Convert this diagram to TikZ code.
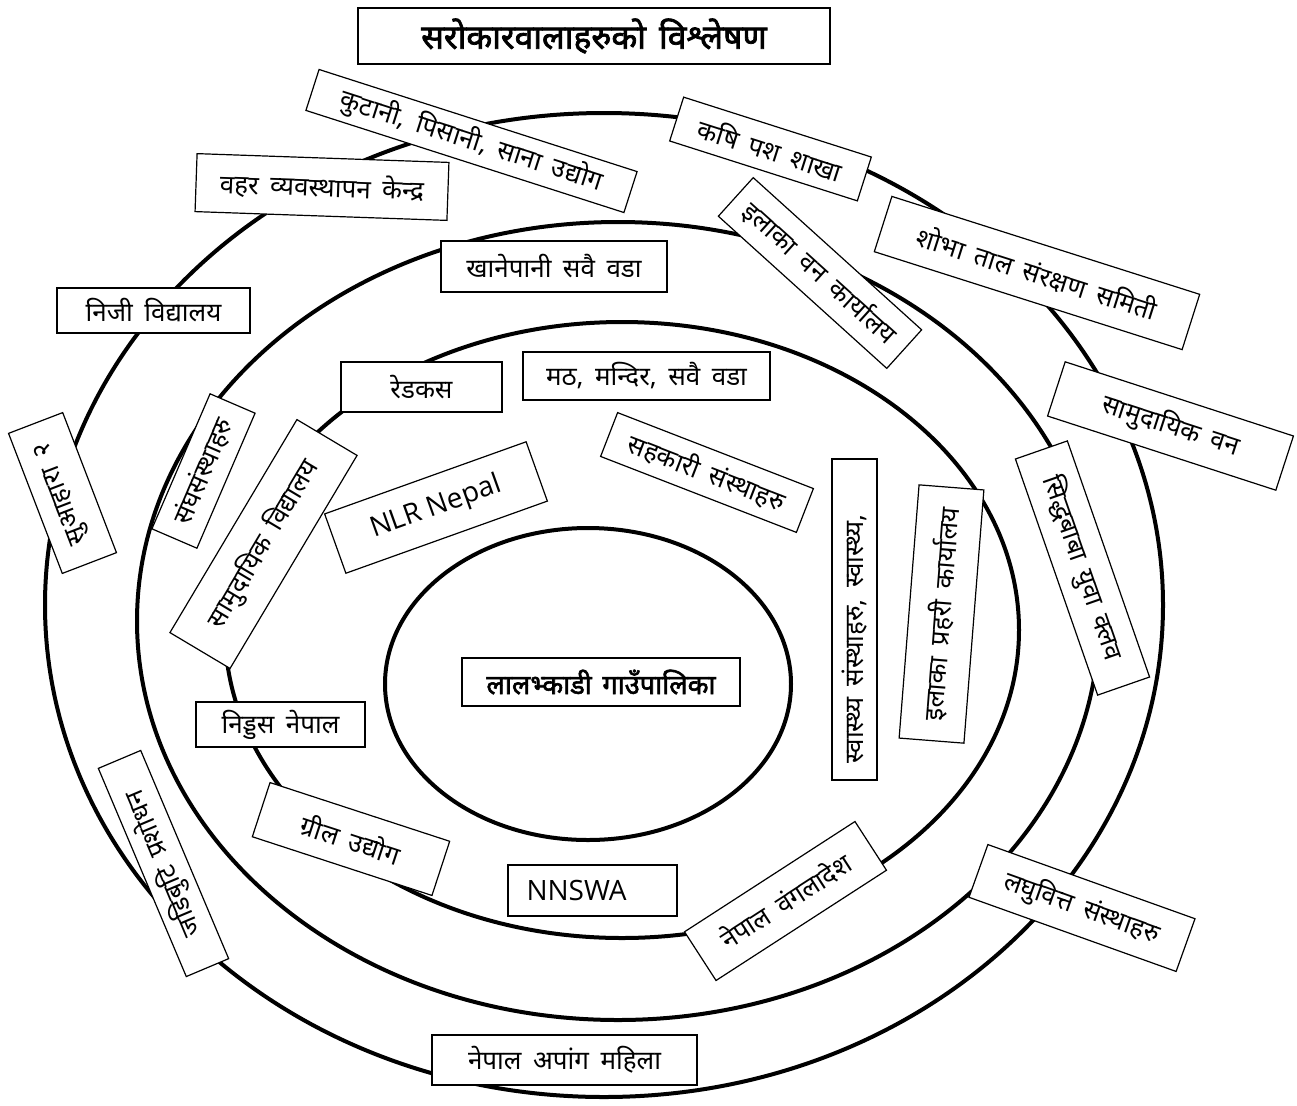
\documentclass[tikz,border=0pt]{standalone}
\usepackage{fontspec}
\newfontfamily\dev[Script=Devanagari,WordSpace=1.7]{Noto Sans}
\newfontfamily\devb[Script=Devanagari,WordSpace=1.5,FakeBold=2.2]{Noto Sans}
\newfontfamily\lat{Open Sans}
\begin{document}
\begin{tikzpicture}[x=0.5pt,y=-0.5pt,
  ring/.style={line width=2pt, draw=black},
  lbl/.style={draw=black, line width=0.6pt, fill=white, inner sep=0pt, align=center,
    font=\dev\fontsize{13}{15}\selectfont},
  latlbl/.style={lbl, font=\lat\fontsize{14}{16}\selectfont},
  boldlbl/.style={lbl, line width=1pt, font=\devb\fontsize{16.8}{19}\selectfont}]
\useasboundingbox (0,0) rectangle (1297,1105);
% rings
\draw[ring] (604,605) ellipse [x radius=279.5pt, y radius=246pt];
\draw[ring] (618,621) ellipse [x radius=240.5pt, y radius=199.5pt];
\draw[ring] (622,630) ellipse [x radius=198.5pt, y radius=154pt];
\draw[ring] (588,684) ellipse [x radius=101.5pt, y radius=78pt];
% title
\node[boldlbl, minimum width=236pt, minimum height=28pt] (title) at (594,36) {सरोकारवालाहरुको विश्लेषण};
% labels
\node[lbl, minimum width=167pt, minimum height=21.5pt, rotate=-17.8] (kutani) at (471.5,141) {कुटानी, पिसानी, साना उद्योग};
\node[lbl, minimum width=98.5pt, minimum height=23pt, rotate=-17.7] (krishi) at (770.5,149) {कषि पश शाखा};
\node[lbl, minimum width=126pt, minimum height=29pt, rotate=-2] (bahar) at (322,187) {वहर व्यवस्थापन केन्द्र};
\node[lbl, minimum width=113pt, minimum height=25.5pt] (khane) at (554,266.5) {खानेपानी सवै वडा};
\node[lbl, minimum width=113.5pt, minimum height=26pt, rotate=-42.1] (ilakaban) at (820,273) {इलाका वन कार्यालय};
\node[lbl, minimum width=161.5pt, minimum height=29pt, rotate=-17.65] (shobha) at (1037,273) {शोभा ताल संरक्षण समिती};
\node[lbl, minimum width=96.5pt, minimum height=22.5pt] (niji) at (153.5,310.5) {निजी विद्यालय};
\node[lbl, minimum width=80.5pt, minimum height=25pt] (redcross) at (421.5,387) {रेडकस};
\node[lbl, minimum width=123.5pt, minimum height=24pt] (math) at (646.5,376) {मठ, मन्दिर, सवै वडा};
\node[lbl, minimum width=120pt, minimum height=28.5pt, rotate=-18] (samban) at (1170.5,426) {सामुदायिक वन};
\node[lbl, minimum width=75pt, minimum height=29pt, rotate=111] (suahara) at (62.5,493) {सुआहारा २};
\node[lbl, minimum width=73.5pt, minimum height=24.5pt, rotate=66.7] (sangh) at (203.5,471) {संघसंस्थाहरु};
\node[lbl, minimum width=124pt, minimum height=35pt, rotate=59.2] (samvid) at (263.5,544) {सामुदायिक विद्यालय};
\node[latlbl, minimum width=107pt, minimum height=31.5pt, rotate=19.7] (nlr) at (436,507.5) {NLR Nepal};
\node[lbl, minimum width=105pt, minimum height=23.5pt, rotate=-21.2] (sahakari) at (707,472.5) {सहकारी संस्थाहरु};
\node[lbl, minimum width=160.5pt, minimum height=22.5pt, rotate=90] (swasthya) at (854.5,619.5) {\makebox[150pt][l]{\hspace{3pt}स्वास्थ्य संस्थाहरु, स्वास्थ्य,}};
\node[lbl, minimum width=127pt, minimum height=32.5pt, rotate=85.5] (prahari) at (941.5,614) {इलाका प्रहरी कार्यालय};
\node[lbl, minimum width=125pt, minimum height=27.5pt, rotate=-70.8] (siddha) at (1082.5,568) {सिद्धबाबा युवा क्लव};
\node[lbl, minimum width=84.5pt, minimum height=22.5pt] (nidds) at (280.5,724.5) {निड्डस नेपाल};
\node[lbl, minimum width=113pt, minimum height=23pt, rotate=112.9] (jadi) at (163.5,863.5) {जडिबुटि प्रशोधन};
\node[lbl, minimum width=94.5pt, minimum height=28.5pt, rotate=-18.1] (gril) at (351,839) {ग्रील उद्योग};
\node[latlbl, minimum width=84.5pt, minimum height=25.5pt] (nnswa) at (592.5,890.5) {\makebox[72pt][l]{\hspace{3pt}NNSWA}};
\node[lbl, minimum width=101.5pt, minimum height=29pt, rotate=32.9] (nepbang) at (785.5,901) {नेपाल वंगलादेश};
\node[lbl, minimum width=110pt, minimum height=28pt, rotate=-19.7] (laghu) at (1082,908) {लघुवित्त संस्थाहरु};
\node[lbl, minimum width=132.5pt, minimum height=25pt] (apang) at (564.5,1060) {नेपाल अपांग महिला};
\node[boldlbl, line width=0.6pt, minimum width=139pt, minimum height=24pt, font=\devb\fontsize{13.6}{15}\selectfont] (lal) at (601,682) {लालभ्काडी गाउँपालिका};
\end{tikzpicture}
\end{document}
